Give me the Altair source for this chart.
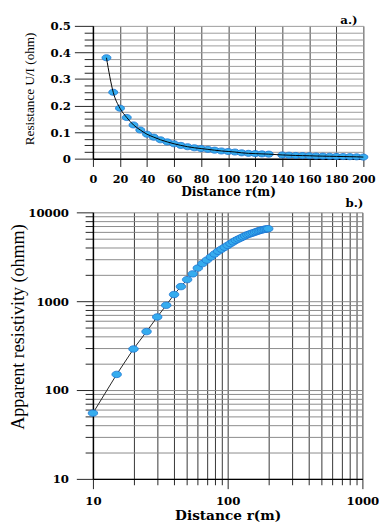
import altair as alt
import pandas as pd

# ---------------- data ----------------
# a.) resistance U/I versus distance
r_a = [10, 15, 20, 25, 30, 35, 40, 45, 50, 55, 60, 65, 70, 75, 80,
       85, 90, 95, 100, 105, 110, 115, 120, 125, 130,
       140, 145, 150, 155, 160, 165, 170, 175, 180, 185, 190, 195, 200]
res_a = [0.38, 0.25, 0.19, 0.155, 0.127, 0.108, 0.092, 0.081, 0.071, 0.063, 0.056, 0.050, 0.045, 0.041, 0.038,
         0.035, 0.032, 0.029, 0.027, 0.025, 0.022, 0.020, 0.019, 0.018, 0.017,
         0.014, 0.013, 0.012, 0.0115, 0.011, 0.010, 0.0095, 0.009, 0.0085, 0.008, 0.0075, 0.007, 0.006]

# b.) apparent resistivity versus distance
r_b = [10, 15, 20, 25, 30, 35, 40, 45, 50, 55, 60, 65, 70, 75, 80, 85, 90, 95, 100,
       105, 110, 115, 120, 125, 130, 135, 140, 145, 150, 155, 160, 165, 170, 175, 180, 185, 190, 195, 200]
rho_b = [55, 150, 290, 455, 665, 900, 1190, 1460, 1750, 2030, 2360, 2650, 2900, 3150, 3400, 3650, 3850, 4050, 4250,
         4450, 4650, 4850, 5000, 5150, 5300, 5450, 5600, 5700, 5800, 5900, 6000, 6100, 6200, 6280, 6350, 6420, 6470, 6520, 6550]

# tick / grid values
ticks_a_x = [0, 20, 40, 60, 80, 100, 120, 140, 160, 180, 200]
ticks_a_y = [0, 0.025, 0.05, 0.075, 0.1, 0.125, 0.15, 0.175, 0.2, 0.225, 0.25,
             0.275, 0.3, 0.325, 0.35, 0.375, 0.4, 0.425, 0.45, 0.475, 0.5]
ticks_b_x = [10, 20, 30, 40, 50, 60, 70, 80, 90, 100, 200, 300, 400, 500, 600, 700, 800, 900, 1000]
ticks_b_y = [10, 20, 30, 40, 50, 60, 70, 80, 90, 100, 200, 300, 400, 500, 600, 700, 800, 900,
             1000, 2000, 3000, 4000, 5000, 6000, 7000, 8000, 9000, 10000]

df_a = pd.DataFrame({"r": r_a, "res": res_a})
df_b = pd.DataFrame({"r": r_b, "rho": rho_b})

# ---------------- styles ----------------
LBL_FONT = "DejaVu Serif"
TTL_FONT = "Liberation Serif"
ELLIPSE = "M-1,0A1,0.68,0,1,1,1,0A1,0.68,0,1,1,-1,0Z"
PT_FILL = "#35ACEE"
PT_STROKE = "#1C74D2"

major_a = "round(datum.value*1000) % 100 == 0"
major_b = "indexof([10,100,1000,10000], datum.value) >= 0"

# ---------------- panel a ----------------
xa = alt.X("r:Q", scale=alt.Scale(domain=[0, 200], nice=False, zero=False),
           axis=alt.Axis(values=ticks_a_x, tickCount=100, title="Distance r(m)", format="d",
                         labelFont=LBL_FONT, labelFontSize=11.5, labelFontWeight="bold", labelColor="black",
                         labelPadding=7, labelFlush=False, labelOverlap=False,
                         titleFont=LBL_FONT, titleFontSize=12.5, titleFontWeight="bold", titleColor="black",
                         titlePadding=1,
                         tickSize=8, tickColor="#222", tickWidth=1,
                         domainColor="black", domainWidth=1.5,
                         grid=True, gridColor="#444", gridWidth=1))
ya = alt.Y("res:Q", scale=alt.Scale(domain=[0, 0.5], nice=False),
           axis=alt.Axis(values=ticks_a_y, tickCount=100, title="Resistance U/I (ohm)",
                         labelExpr=f"{major_a} ? format(datum.value, '.1~f') : ''",
                         labelFont=LBL_FONT, labelFontSize=12, labelFontWeight="bold", labelColor="black",
                         labelPadding=4, labelOverlap=False, labelFlush=False,
                         titleFont=TTL_FONT, titleFontSize=13.5, titleFontWeight="normal", titleColor="black",
                         titleX=-58, titleY=64,
                         tickSize={"condition": {"test": major_a, "value": 19}, "value": 9},
                         tickColor="#222", tickWidth=1,
                         domainColor="black", domainWidth=1.5,
                         grid=True, gridColor="#9a9a9a", gridWidth=1))

pts_a = alt.Chart(df_a).mark_point(shape=ELLIPSE, size=85, filled=True, fill=PT_FILL,
                                   stroke=PT_STROKE, strokeWidth=0.8, opacity=1).encode(x=xa, y=ya)
line_a = alt.Chart(df_a).mark_line(color="black", strokeWidth=1, interpolate="monotone").encode(x=xa, y=ya)

panel_a = alt.layer(pts_a, line_a).properties(
    width=277, height=136,
    title=alt.TitleParams("a.)", anchor="end", frame="group", font=LBL_FONT, fontSize=12,
                          fontWeight="bold", color="black", offset=-7, dx=-6))

# ---------------- panel b ----------------
xb = alt.X("r:Q", scale=alt.Scale(type="log", domain=[10, 1000], nice=False),
           axis=alt.Axis(values=ticks_b_x, tickCount=100, title="Distance r(m)",
                         labelExpr=f"{major_b} ? format(datum.value, 'd') : ''",
                         labelFont=LBL_FONT, labelFontSize=12, labelFontWeight="bold", labelColor="black",
                         labelPadding=7, labelFlush=False, labelOverlap=False,
                         titleFont=LBL_FONT, titleFontSize=14, titleFontWeight="bold", titleColor="black",
                         titlePadding=3,
                         tickSize={"condition": {"test": major_b, "value": 10}, "value": 6},
                         tickColor="#222", tickWidth=1,
                         domainColor="black", domainWidth=1.5,
                         grid=True, gridColor="#333", gridWidth=1))
yb = alt.Y("rho:Q", scale=alt.Scale(type="log", domain=[10, 10000], nice=False),
           axis=alt.Axis(values=ticks_b_y, tickCount=100, title="Apparent resistivity (ohmm)",
                         labelExpr=f"{major_b} ? format(datum.value, 'd') : ''",
                         labelFont=LBL_FONT, labelFontSize=12, labelFontWeight="bold", labelColor="black",
                         labelPadding=8, labelOverlap=False, labelFlush=False,
                         titleFont=TTL_FONT, titleFontSize=18.5, titleFontWeight="normal", titleColor="black",
                         titleX=-67, titleY=117,
                         tickSize={"condition": {"test": major_b, "value": 17}, "value": 8},
                         tickColor="#222", tickWidth=1,
                         domainColor="black", domainWidth=1.5,
                         grid=True, gridColor="#8a8a8a", gridWidth=1))

line_b = alt.Chart(df_b).mark_line(color="#222", strokeWidth=1).encode(x=xb, y=yb)
pts_b = alt.Chart(df_b).mark_point(shape=ELLIPSE, size=95, filled=True, fill=PT_FILL,
                                   stroke=PT_STROKE, strokeWidth=0.8, opacity=1).encode(x=xb, y=yb)

panel_b = alt.layer(line_b, pts_b).properties(
    width=276, height=273,
    title=alt.TitleParams("b.)", anchor="end", frame="group", font=LBL_FONT, fontSize=12,
                          fontWeight="bold", color="black", offset=-3, dx=1))

chart = alt.vconcat(panel_a, panel_b, spacing=55, bounds="flush").properties(
    padding={"left": 0, "top": 0, "right": 0, "bottom": 0},
    background="white",
).configure_view(stroke=None)

chart.save("out.html", embed_options={"renderer": "svg", "actions": False})
